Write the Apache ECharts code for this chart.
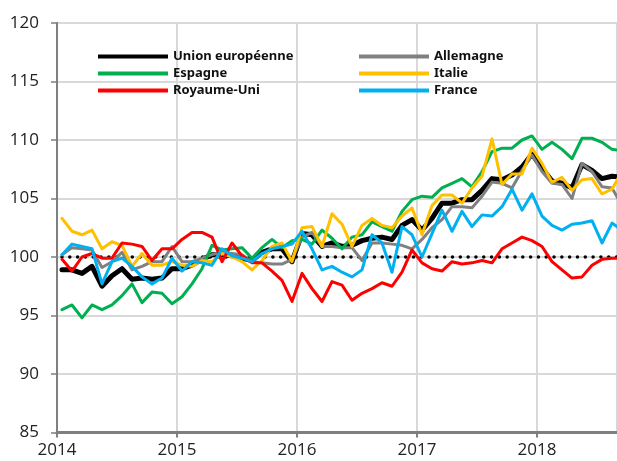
<!DOCTYPE html>
<html>
<head>
<meta charset="utf-8">
<script src="https://cdn.jsdelivr.net/npm/echarts@6/dist/echarts.min.js"></script>
<style>html,body{margin:0;padding:0;background:#fff}#c{width:617px;height:461px}</style>
</head>
<body>
<div id="c"></div>
<script>
// Monthly index values, Jan 2014 onward
const yearLabels = ['2014', '2015', '2016', '2017', '2018'];
const seriesNames = ['Union européenne', 'Allemagne', 'Espagne', 'Italie', 'Royaume-Uni', 'France'];

const ue = [98.9, 98.9, 98.6, 99.2, 97.5, 98.4, 99.0, 98.1, 98.2, 98.1, 98.2, 99.0, 99.0, 99.3, 99.8, 100.2, 100.2, 100.1, 99.9, 99.7, 100.4, 100.7, 100.7, 99.6,
  102.0, 101.9, 100.9, 101.2, 100.9, 101.0, 101.4, 101.6, 101.7, 101.5, 102.7, 103.2, 102.3,
  103.3, 104.6, 104.6, 104.9, 104.9, 105.7, 106.7, 106.6, 107.0, 107.7, 108.8, 107.6, 106.5, 106.3, 105.9, 107.9, 107.4, 106.7, 106.9, 106.8];
const allemagne = [100.2, 100.8, 100.7, 100.6, 99.1, 99.6, 100.4, 98.9, 99.2, 99.6, 99.6, 100.9, 99.6, 99.6, 99.9, 100.2, 100.4, 100.3, 100.2, 99.6, 99.5, 99.4, 99.4, 99.8,
  101.7, 102.1, 100.9, 100.9, 100.8, 100.8, 99.7, 101.2, 101.2, 101.1, 101.0, 100.7, 101.5,
  102.5, 103.2, 104.3, 104.3, 104.2, 105.2, 106.4, 106.3, 105.9, 107.4, 108.7, 107.3, 106.3, 106.2, 105.0, 108.0, 107.3, 106.0, 105.9, 104.4];
const espagne = [95.5, 95.9, 94.8, 95.9, 95.5, 95.9, 96.7, 97.7, 96.1, 97.0, 96.9, 96.0, 96.6, 97.7, 99.0, 101.0, 100.6, 100.7, 100.8, 99.9, 100.8, 101.5, 100.8, 101.4,
  101.5, 101.1, 102.3, 101.6, 100.7, 101.7, 101.9, 103.0, 102.6, 102.2, 103.9, 104.9, 105.2,
  105.1, 105.9, 106.3, 106.7, 106.0, 107.3, 109.0, 109.3, 109.3, 110.0, 110.35, 109.2, 109.8, 109.2, 108.4, 110.15, 110.15, 109.8, 109.2, 109.1];
const italie = [103.3, 102.2, 101.9, 102.3, 100.7, 101.3, 101.0, 99.2, 100.3, 99.3, 99.3, 99.6, 99.3, 99.2, 99.7, 99.6, 100.3, 100.0, 99.6, 98.9, 99.7, 100.9, 101.2, 99.6,
  102.5, 102.6, 100.9, 103.7, 102.8, 100.9, 102.7, 103.3, 102.7, 102.5, 103.5, 104.2, 101.9,
  104.4, 105.3, 105.3, 104.6, 105.9, 106.9, 110.1, 106.2, 107.1, 107.1, 109.3, 108.0, 106.4, 106.8, 105.7, 106.6, 106.7, 105.4, 105.8, 107.3];
const royaumeUni = [99.8, 98.8, 100.0, 100.3, 99.9, 99.9, 101.2, 101.1, 100.9, 99.7, 100.7, 100.7, 101.5, 102.1, 102.1, 101.7, 99.6, 101.2, 100.1, 99.5, 99.5, 98.8, 98.0, 96.2,
  98.6, 97.3, 96.2, 97.9, 97.6, 96.3, 96.9, 97.3, 97.8, 97.5, 98.7, 100.6, 99.5,
  99.0, 98.8, 99.6, 99.4, 99.5, 99.7, 99.5, 100.7, 101.2, 101.7, 101.4, 100.9, 99.6, 98.9, 98.2, 98.3, 99.3, 99.8, 99.9, 99.9];
const france = [100.2, 101.1, 100.9, 100.7, 97.7, 99.6, 99.9, 99.2, 98.3, 97.7, 98.2, 99.9, 98.8, 99.6, 99.5, 99.3, 100.7, 100.1, 99.9, 99.6, 100.3, 100.7, 100.9, 101.1,
  102.2, 100.7, 98.9, 99.2, 98.7, 98.3, 98.9, 101.9, 101.2, 98.7, 102.6, 101.9, 100.0,
  102.0, 104.0, 102.2, 103.9, 102.6, 103.6, 103.5, 104.3, 105.8, 104.0, 105.4, 103.5, 102.7, 102.3, 102.8, 102.9, 103.1, 101.2, 102.9, 102.3];
const referenceLevel = 100;

const colors = ['#000000', '#808080', '#00b050', '#ffc000', '#ff0000', '#00b0f0'];
const widths = [5, 3, 3, 3, 3, 3];
const values = [ue, allemagne, espagne, italie, royaumeUni, france];

// month index i is plotted at the middle of the month
const toPoints = arr => arr.map((v, i) => [i + 0.5, v]);

const series = values.map((arr, k) => ({
  name: seriesNames[k],
  type: 'line',
  data: toPoints(arr),
  showSymbol: false,
  symbol: 'none',
  clip: true,
  z: 3 + k,
  lineStyle: { color: colors[k], width: widths[k], join: 'round', cap: 'round' },
  itemStyle: { color: colors[k] },
  emphasis: { disabled: true }
}));
series.push({
  name: 'ref',
  type: 'line',
  data: [[0.5, referenceLevel], [57, referenceLevel]],
  showSymbol: false,
  symbol: 'none',
  z: 2,
  lineStyle: { color: '#000', width: 3.5, type: [0.01, 7.8], cap: 'round' },
  emphasis: { disabled: true }
});

const font = '"Open Sans", "Noto Sans", sans-serif';
const legendText = { fontFamily: '"Noto Sans", sans-serif', fontWeight: 'bold', fontSize: 13, color: '#111', lineHeight: 15 };
const legendBase = {
  orient: 'vertical', top: 44, itemWidth: 70, itemHeight: 4, itemGap: 2,
  icon: 'rect', textStyle: legendText, selectedMode: false
};

const chart = echarts.init(document.getElementById('c'), null, { renderer: 'canvas' });
chart.setOption({
  animation: false,
  backgroundColor: '#fff',
  grid: { left: 57, right: 0, top: 23, bottom: 28.5, containLabel: false },
  legend: [
    Object.assign({}, legendBase, { left: 93, data: [seriesNames[0], seriesNames[2], seriesNames[4]] }),
    Object.assign({}, legendBase, { left: 354, data: [seriesNames[1], seriesNames[3], seriesNames[5]] })
  ],
  xAxis: {
    type: 'value', min: 0, max: 56, interval: 12,
    axisLine: { show: true, onZero: false, lineStyle: { color: '#7f7f7f', width: 3 } },
    axisTick: { show: true, length: 5, lineStyle: { color: '#7f7f7f', width: 2 } },
    axisLabel: {
      showMaxLabel: false, margin: 9, fontSize: 17, color: '#222', fontFamily: font,
      formatter: v => yearLabels[Math.round(v / 12)] || ''
    },
    splitLine: { show: true, lineStyle: { color: '#d9d9d9', width: 2 } }
  },
  yAxis: {
    type: 'value', min: 85, max: 120, interval: 5,
    axisLine: { show: true, lineStyle: { color: '#7f7f7f', width: 2 } },
    axisTick: { show: true, length: 6, lineStyle: { color: '#7f7f7f', width: 1.5 } },
    axisLabel: { margin: 18, fontSize: 17, color: '#222', fontFamily: font },
    splitLine: { show: true, lineStyle: { color: '#d9d9d9', width: 2 } }
  },
  series: series
});
</script>
</body>
</html>
